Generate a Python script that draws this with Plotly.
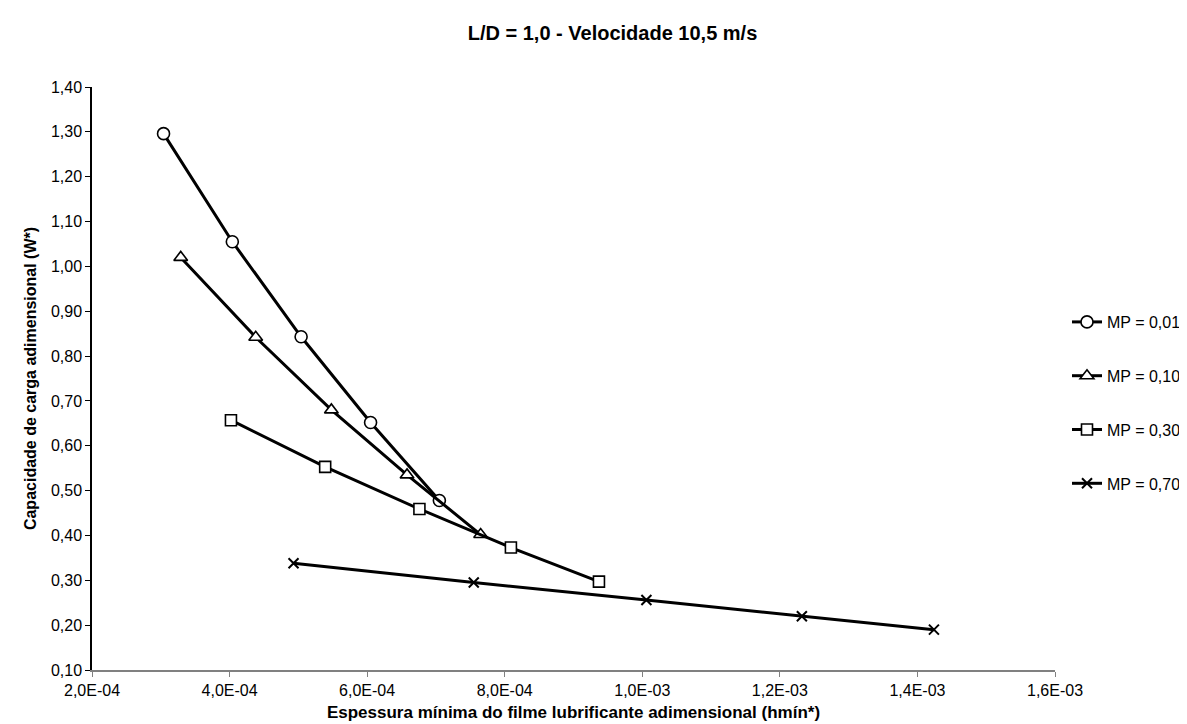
import plotly.graph_objects as go

# ---- data ----
series_names = ["MP = 0,01", "MP = 0,10", "MP = 0,30", "MP = 0,70"]
x_mp001 = [3.04e-4, 4.04e-4, 5.04e-4, 6.05e-4, 7.05e-4]
y_mp001 = [1.296, 1.055, 0.843, 0.652, 0.478]
x_mp010 = [3.29e-4, 4.38e-4, 5.48e-4, 6.58e-4, 7.65e-4]
y_mp010 = [1.020, 0.842, 0.680, 0.535, 0.402]
x_mp030 = [4.02e-4, 5.39e-4, 6.76e-4, 8.09e-4, 9.37e-4]
y_mp030 = [0.657, 0.553, 0.459, 0.373, 0.297]
x_mp070 = [4.93e-4, 7.55e-4, 1.006e-3, 1.232e-3, 1.424e-3]
y_mp070 = [0.338, 0.295, 0.256, 0.220, 0.190]

x_tickvals = [2e-4, 4e-4, 6e-4, 8e-4, 1.0e-3, 1.2e-3, 1.4e-3, 1.6e-3]
x_ticktext = ["2,0E-04", "4,0E-04", "6,0E-04", "8,0E-04", "1,0E-03", "1,2E-03", "1,4E-03", "1,6E-03"]
y_tickvals = [0.1, 0.2, 0.3, 0.4, 0.5, 0.6, 0.7, 0.8, 0.9, 1.0, 1.1, 1.2, 1.3, 1.4]
y_ticktext = ["0,10", "0,20", "0,30", "0,40", "0,50", "0,60", "0,70", "0,80", "0,90",
              "1,00", "1,10", "1,20", "1,30", "1,40"]

title_text = "L/D = 1,0 - Velocidade 10,5 m/s"
x_title = "Espessura mínima do filme lubrificante adimensional (hmín*)"
y_title = "Capacidade de carga adimensional (W*)"

FONT = "Liberation Sans, Arial, sans-serif"

xs = [x_mp001, x_mp010, x_mp030, x_mp070]
ys = [y_mp001, y_mp010, y_mp030, y_mp070]
symbols = ["circle", "triangle-up", "square", "x-thin"]
sizes = [12, 12, 11, 10]

fig = go.Figure()
for i in range(4):
    if symbols[i] == "x-thin":
        marker = dict(symbol="x-thin", size=sizes[i], color="black",
                      line=dict(color="black", width=2))
    else:
        marker = dict(symbol=symbols[i], size=sizes[i], color="white",
                      line=dict(color="black", width=1.6))
    fig.add_trace(go.Scatter(
        x=xs[i], y=ys[i], mode="lines+markers", name=series_names[i],
        line=dict(color="black", width=3), marker=marker,
        legendgroup=f"g{i}", cliponaxis=False,
    ))

fig.update_layout(
    width=1187, height=724,
    paper_bgcolor="white", plot_bgcolor="white",
    margin=dict(l=84, r=140, t=79, b=62, autoexpand=False),
    font=dict(family=FONT, size=16, color="black"),
    title=dict(text="<b>" + title_text + "</b>", x=604.5 / 1187, xanchor="center",
               xref="container", y=1 - 25 / 724, yanchor="middle", yref="container",
               font=dict(size=20, family=FONT, color="black")),
    showlegend=True,
    legend=dict(xref="container", yref="container", x=1059 / 1187, xanchor="left",
                y=1 - 297 / 724, yanchor="top", font=dict(size=16, family=FONT),
                tracegroupgap=30, bgcolor="rgba(0,0,0,0)", itemwidth=30),
)
fig.update_xaxes(
    range=[2e-4, 1.6e-3], tickvals=x_tickvals, ticktext=x_ticktext, automargin=False,
    showgrid=False, zeroline=False, showline=True, linecolor="#808080", linewidth=1.5,
    ticks="outside", ticklen=5, tickcolor="#808080", tickfont=dict(size=16, family=FONT),
    title=dict(text="<b>" + x_title + "</b>", font=dict(size=17, family=FONT), standoff=8),
)
fig.update_yaxes(
    range=[0.1, 1.4], tickvals=y_tickvals, ticktext=y_ticktext, automargin=False,
    showgrid=False, zeroline=False, showline=True, linecolor="black", linewidth=1.5,
    ticks="outside", ticklen=5, tickcolor="black", tickfont=dict(size=16, family=FONT),
    title=dict(text="<b>" + y_title + "</b>", font=dict(size=16, family=FONT), standoff=10),
)

fig.write_html("out.html")
